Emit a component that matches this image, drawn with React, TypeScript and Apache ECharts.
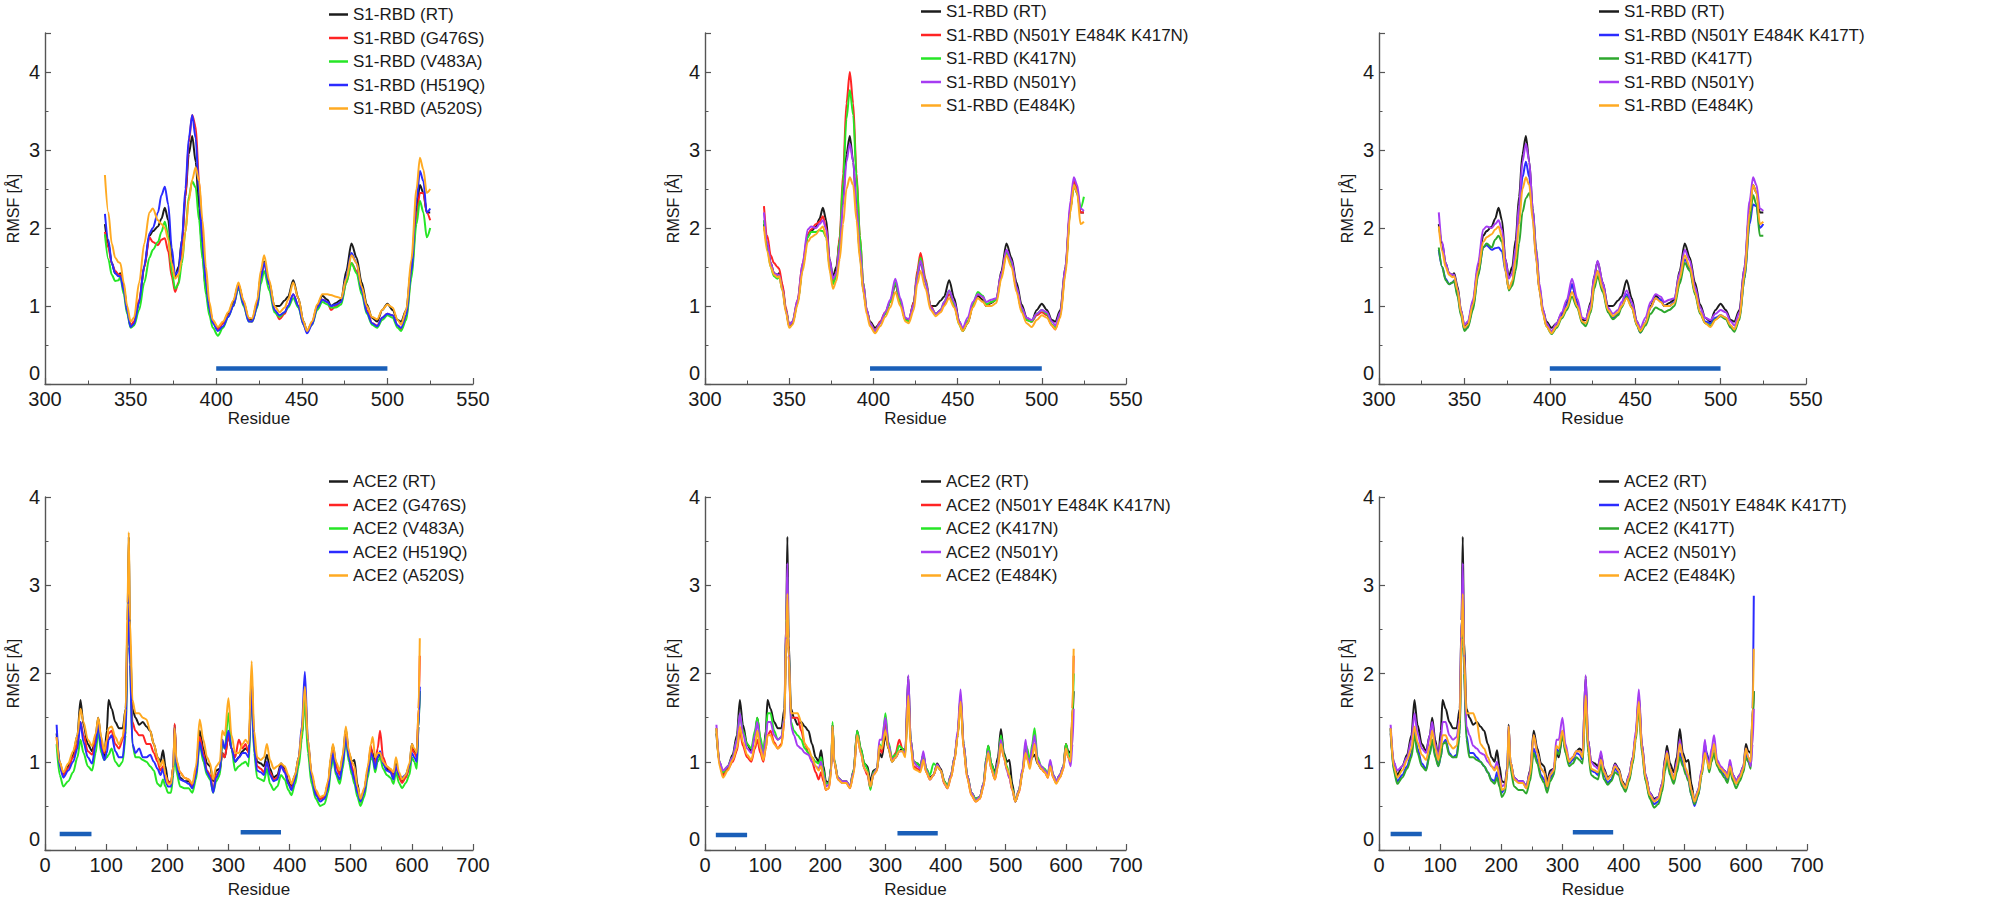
import React, { useEffect, useRef } from "react";
import * as echarts from "echarts";

// ---------- Residue positions ----------
const TOP_X = [
  335, 337, 339, 341, 343, 344, 346, 348, 350, 352,
  355, 358, 361, 363, 366, 368, 370, 372, 374, 376,
  378, 380, 382, 384, 386, 388, 390, 392, 394, 396,
  398, 401, 404, 407, 410, 413, 416, 419, 421, 424,
  426, 428, 431, 434, 437, 440, 442, 445, 448, 451,
  453, 456, 459, 462, 465, 467, 470, 473, 476, 479,
  482, 485, 488, 491, 494, 497, 500, 503, 506, 508,
  511, 514, 517, 519, 521, 523, 525,
];

const BOT_X = [
  19, 24, 30, 38, 46, 53, 58, 63, 70, 77,
  83, 87, 92, 97, 101, 104, 109, 115, 121, 127,
  132, 135, 137, 139, 143, 148, 154, 160, 166, 172,
  178, 184, 189, 193, 197, 201, 206, 210, 212, 215,
  221, 228, 235, 241, 247, 253, 259, 265, 270, 275,
  280, 286, 290, 294, 300, 305, 311, 317, 323, 328,
  333, 338, 342, 347, 353, 358, 363, 368, 374, 380,
  386, 392, 398, 403, 409, 415, 420, 425, 430, 436,
  443, 450, 457, 463, 468, 471, 476, 482, 487, 492,
  497, 502, 506, 511, 516, 522, 528, 533, 536, 540,
  544, 548, 553, 559, 565, 570, 574, 579, 584, 590,
  596, 600, 604, 608, 611, 613,
];

// ---------- S1-RBD RMSF ----------
const S1_RT = [
  2.05, 1.8, 1.55, 1.42, 1.40, 1.42, 1.25, 0.95, 0.74, 0.78,
  1.05, 1.5, 1.9, 1.96, 2.02, 2.12, 2.26, 2.1, 1.6, 1.38,
  1.5, 1.85, 2.4, 2.95, 3.18, 2.85, 2.25, 1.65, 1.2, 0.95,
  0.8, 0.72, 0.78, 0.9, 1.05, 1.28, 1.05, 0.82, 0.82, 1.05,
  1.38, 1.57, 1.3, 1.0, 1.0, 1.07, 1.12, 1.33, 1.1, 0.8,
  0.68, 0.78, 1.0, 1.13, 1.08, 1.0, 1.04, 1.08, 1.45, 1.8,
  1.62, 1.3, 1.02, 0.85, 0.8, 0.95, 1.03, 0.95, 0.82, 0.8,
  0.95, 1.5, 2.25, 2.55, 2.45, 2.2, 2.2,
];
const S1_G476S = [
  1.95, 1.75, 1.55, 1.45, 1.40, 1.40, 1.22, 0.95, 0.75, 0.8,
  1.08, 1.5, 1.88, 1.82, 1.78, 1.85, 1.87, 1.7, 1.38, 1.18,
  1.3, 1.75, 2.4, 3.1, 3.45, 3.3, 2.6, 1.9, 1.35, 1.0,
  0.8, 0.7, 0.78, 0.88, 1.0, 1.27, 1.05, 0.82, 0.8, 1.0,
  1.35, 1.55, 1.28, 0.95, 0.83, 0.9, 1.0, 1.15, 1.0, 0.78,
  0.67, 0.78, 0.98, 1.08, 1.05, 0.95, 1.0, 1.05, 1.3, 1.55,
  1.45, 1.2, 0.95, 0.78, 0.75, 0.85, 0.9, 0.88, 0.75, 0.7,
  0.85, 1.4, 2.15, 2.45, 2.45, 2.2, 2.1,
];
const S1_V483A = [
  1.92, 1.6, 1.4, 1.32, 1.33, 1.37, 1.15, 0.9, 0.72, 0.75,
  0.95, 1.3, 1.62, 1.72, 1.82, 1.95, 2.08, 1.9, 1.45, 1.22,
  1.28, 1.55, 1.95, 2.4, 2.6, 2.52, 2.1, 1.6, 1.15, 0.88,
  0.72, 0.62, 0.72, 0.86, 1.0, 1.23, 1.0, 0.8, 0.8, 0.98,
  1.28, 1.45, 1.2, 0.92, 0.86, 0.92, 0.98, 1.1, 0.98, 0.76,
  0.67, 0.76, 0.95, 1.05, 1.02, 0.98, 0.98, 1.02, 1.3, 1.55,
  1.42, 1.15, 0.9, 0.76, 0.72, 0.82, 0.88, 0.85, 0.72, 0.68,
  0.82, 1.35, 2.05, 2.35, 2.2, 1.88, 2.0,
];
const S1_H519Q = [
  2.18, 1.85, 1.55, 1.42, 1.38, 1.38, 1.2, 0.93, 0.73, 0.77,
  1.05, 1.52, 1.93, 2.0, 2.2, 2.42, 2.53, 2.3, 1.75, 1.4,
  1.45, 1.85, 2.5, 3.15, 3.45, 3.15, 2.45, 1.8, 1.3, 0.96,
  0.78, 0.68, 0.74, 0.86, 1.0, 1.25, 1.02, 0.8, 0.8, 1.0,
  1.35, 1.55, 1.27, 0.95, 0.88, 0.92, 1.0, 1.15, 1.0, 0.76,
  0.65, 0.76, 0.98, 1.08, 1.05, 1.0, 1.02, 1.05, 1.38, 1.68,
  1.55, 1.2, 0.92, 0.78, 0.74, 0.85, 0.9, 0.88, 0.75, 0.72,
  0.88, 1.45, 2.35, 2.73, 2.6, 2.2, 2.25,
];
const S1_A520S = [
  2.68, 2.2, 1.8, 1.62, 1.56, 1.55, 1.3, 1.0, 0.8, 0.85,
  1.3, 1.8, 2.2, 2.25, 2.1, 2.05, 2.0, 1.85, 1.55, 1.35,
  1.4, 1.6, 1.95, 2.35, 2.62, 2.78, 2.6, 2.1, 1.5, 1.05,
  0.82, 0.73, 0.8, 0.92, 1.07, 1.3, 1.07, 0.85, 0.84, 1.08,
  1.45, 1.65, 1.33, 1.0, 0.92, 0.98, 1.08, 1.3, 1.1, 0.8,
  0.68, 0.8, 1.02, 1.15, 1.15, 1.14, 1.12, 1.1, 1.35, 1.65,
  1.55, 1.25, 1.0, 0.86, 0.83, 0.95, 1.02, 0.98, 0.82, 0.76,
  0.95, 1.6, 2.5, 2.9, 2.75, 2.45, 2.5,
];
const S1_NEK_N = [
  2.28, 1.9, 1.65, 1.55, 1.5, 1.48, 1.28, 0.98, 0.76, 0.8,
  1.08, 1.55, 1.92, 1.98, 2.05, 2.08, 2.15, 2.0, 1.55, 1.3,
  1.42, 1.9, 2.7, 3.6, 4.0, 3.6, 2.7, 1.9, 1.3, 0.95,
  0.78, 0.68, 0.8, 0.92, 1.05, 1.3, 1.06, 0.82, 0.8, 1.05,
  1.45, 1.68, 1.35, 1.0, 0.9, 0.95, 1.02, 1.15, 1.0, 0.78,
  0.7, 0.8, 1.0, 1.15, 1.12, 1.0, 1.05, 1.08, 1.4, 1.7,
  1.55, 1.22, 0.95, 0.82, 0.8, 0.88, 0.92, 0.88, 0.75, 0.7,
  0.88, 1.45, 2.3, 2.6, 2.5, 2.2, 2.2,
];
const S1_K417N = [
  2.1, 1.75, 1.5, 1.38, 1.35, 1.38, 1.2, 0.95, 0.76, 0.8,
  1.05, 1.5, 1.88, 1.95, 1.95, 1.97, 1.96, 1.88, 1.5, 1.28,
  1.38, 1.85, 2.6, 3.4, 3.77, 3.45, 2.65, 1.9, 1.3, 0.95,
  0.77, 0.67, 0.78, 0.9, 1.05, 1.3, 1.05, 0.82, 0.8, 1.02,
  1.4, 1.62, 1.32, 0.98, 0.9, 0.95, 1.05, 1.2, 1.02, 0.76,
  0.68, 0.8, 1.02, 1.18, 1.13, 1.02, 1.05, 1.08, 1.38, 1.68,
  1.55, 1.22, 0.95, 0.82, 0.8, 0.9, 0.95, 0.9, 0.76, 0.72,
  0.9, 1.45, 2.25, 2.55, 2.45, 2.25, 2.4,
];
const S1_N501Y = [
  2.2, 1.82, 1.55, 1.42, 1.4, 1.4, 1.22, 0.95, 0.76, 0.8,
  1.08, 1.55, 1.98, 2.02, 2.0, 2.05, 2.1, 1.98, 1.6, 1.35,
  1.42, 1.75, 2.3, 2.85, 3.08, 2.85, 2.25, 1.72, 1.28, 0.96,
  0.78, 0.68, 0.78, 0.92, 1.08, 1.35, 1.1, 0.85, 0.83, 1.02,
  1.38, 1.58, 1.3, 0.98, 0.9, 0.95, 1.05, 1.2, 1.05, 0.8,
  0.72, 0.85, 1.05, 1.15, 1.12, 1.05, 1.08, 1.1, 1.42, 1.72,
  1.58, 1.25, 0.98, 0.85, 0.82, 0.9, 0.95, 0.92, 0.8, 0.75,
  0.92, 1.5, 2.35, 2.65, 2.55, 2.25, 2.22,
];
const S1_E484K = [
  2.02, 1.7, 1.5, 1.4, 1.37, 1.38, 1.2, 0.92, 0.72, 0.76,
  1.02, 1.45, 1.82, 1.88, 1.92, 1.98, 2.02, 1.88, 1.45, 1.22,
  1.32, 1.6, 2.05, 2.5, 2.65, 2.55, 2.1, 1.6, 1.18, 0.9,
  0.74, 0.65, 0.74, 0.86, 0.98, 1.18, 1.0, 0.8, 0.78, 0.95,
  1.28, 1.45, 1.22, 0.95, 0.87, 0.92, 1.0, 1.1, 0.98, 0.76,
  0.68, 0.78, 0.98, 1.1, 1.05, 1.0, 1.0, 1.04, 1.35, 1.65,
  1.5, 1.18, 0.92, 0.78, 0.73, 0.82, 0.88, 0.85, 0.75, 0.7,
  0.85, 1.4, 2.2, 2.55, 2.45, 2.05, 2.08,
];
const S1_NEK_T = [
  1.72, 1.5, 1.35, 1.28, 1.3, 1.33, 1.15, 0.9, 0.7, 0.74,
  0.98, 1.4, 1.75, 1.78, 1.72, 1.74, 1.75, 1.7, 1.45, 1.22,
  1.3, 1.65, 2.15, 2.65, 2.85, 2.65, 2.15, 1.62, 1.2, 0.92,
  0.76, 0.67, 0.76, 0.88, 1.02, 1.28, 1.04, 0.8, 0.78, 0.95,
  1.28, 1.45, 1.22, 0.95, 0.85, 0.9, 1.0, 1.15, 1.0, 0.76,
  0.66, 0.78, 0.98, 1.1, 1.08, 1.0, 1.0, 1.05, 1.32, 1.6,
  1.48, 1.18, 0.92, 0.8, 0.78, 0.85, 0.88, 0.85, 0.74, 0.7,
  0.85, 1.35, 2.05, 2.3, 2.28, 2.0, 2.05,
];
const S1_K417T = [
  1.75, 1.5, 1.33, 1.28, 1.3, 1.32, 1.12, 0.88, 0.68, 0.72,
  0.95, 1.38, 1.75, 1.8, 1.75, 1.85, 1.9, 1.82, 1.48, 1.2,
  1.26, 1.45, 1.8, 2.2, 2.38, 2.45, 2.25, 1.75, 1.25, 0.92,
  0.74, 0.64, 0.72, 0.84, 0.95, 1.12, 0.98, 0.78, 0.74, 0.92,
  1.22, 1.38, 1.18, 0.92, 0.83, 0.88, 0.98, 1.12, 0.98, 0.75,
  0.66, 0.75, 0.9, 0.98, 0.95, 0.92, 0.95, 1.0, 1.28, 1.55,
  1.45, 1.15, 0.9, 0.78, 0.75, 0.83, 0.87, 0.83, 0.72, 0.67,
  0.82, 1.35, 2.1, 2.42, 2.3, 1.9, 1.9,
];

// ---------- ACE2 RMSF ----------
const ACE_RT = [
  1.32, 1.0, 0.85, 0.95, 1.08, 1.3, 1.7, 1.42, 1.2, 1.12,
  1.3, 1.5, 1.25, 1.05, 1.35, 1.7, 1.6, 1.45, 1.38, 1.38,
  1.6, 2.6, 3.55, 2.4, 1.6, 1.5, 1.42, 1.45, 1.4, 1.35,
  1.2, 1.05, 1.0, 1.13, 0.95, 0.78, 0.76, 0.95, 1.42, 1.0,
  0.82, 0.78, 0.78, 0.72, 0.9, 1.35, 1.15, 0.98, 0.95, 0.78,
  0.9, 0.92, 1.1, 1.05, 1.3, 1.15, 1.0, 1.05, 1.12, 1.15,
  1.12, 1.97, 1.25, 1.0, 0.98, 0.95, 1.08, 0.92, 0.82, 0.85,
  0.98, 0.92, 0.78, 0.72, 0.85, 1.05, 1.3, 1.75, 1.2, 0.85,
  0.65, 0.58, 0.6, 0.75, 1.05, 1.18, 0.98, 0.88, 1.05, 1.37,
  1.1, 1.0, 1.02, 0.75, 0.55, 0.68, 0.9, 1.15, 1.1, 0.98,
  1.05, 1.08, 0.98, 0.92, 0.9, 0.85, 0.98, 0.85, 0.78, 0.85,
  0.95, 1.2, 1.12, 1.1, 1.5, 1.8,
];
const ACE_G476S = [
  1.28, 0.95, 0.85, 0.93, 1.05, 1.2, 1.45, 1.3, 1.12, 1.08,
  1.25, 1.45, 1.2, 1.1, 1.2, 1.32, 1.35, 1.2, 1.15, 1.25,
  1.5, 2.4, 3.0, 2.2, 1.45, 1.35, 1.3, 1.3, 1.2, 1.2,
  1.1, 1.0, 0.9, 0.95, 0.85, 0.78, 0.75, 0.95, 1.43, 1.0,
  0.88, 0.82, 0.8, 0.72, 0.88, 1.28, 1.1, 0.9, 0.85, 0.68,
  0.85, 0.9, 1.1, 1.05, 1.3, 1.15, 1.05, 1.25, 1.15, 1.2,
  1.1, 1.9, 1.2, 0.95, 0.92, 0.88, 1.0, 0.88, 0.8, 0.82,
  0.95, 0.9, 0.75, 0.7, 0.82, 1.02, 1.3, 1.85, 1.2, 0.85,
  0.65, 0.58, 0.6, 0.75, 1.0, 1.12, 0.95, 0.85, 1.0, 1.3,
  1.1, 0.95, 0.82, 0.68, 0.55, 0.68, 0.9, 1.18, 1.05, 0.98,
  1.15, 1.35, 1.05, 0.95, 0.9, 0.82, 0.95, 0.82, 0.76, 0.82,
  0.92, 1.15, 1.1, 1.05, 1.6, 2.2,
];
const ACE_V483A = [
  1.2, 0.85, 0.72, 0.78, 0.88, 1.05, 1.25, 1.1, 0.95, 0.9,
  1.1, 1.35, 1.1, 1.02, 1.05, 1.08, 1.15, 1.0, 0.95, 1.0,
  1.3, 2.3, 2.95, 2.1, 1.2, 1.05, 1.05, 1.02, 1.0, 0.95,
  0.9, 0.75, 0.72, 0.8, 0.72, 0.65, 0.65, 0.85, 1.18, 0.88,
  0.72, 0.7, 0.7, 0.65, 0.8, 1.2, 1.0, 0.85, 0.8, 0.65,
  0.78, 0.85, 1.2, 1.15, 1.55, 1.15, 0.9, 0.95, 0.98, 1.0,
  0.95, 1.82, 1.1, 0.82, 0.8, 0.78, 0.92, 0.75, 0.68, 0.72,
  0.85, 0.8, 0.68, 0.62, 0.75, 0.95, 1.25, 1.7, 1.1, 0.75,
  0.58, 0.5, 0.52, 0.65, 0.92, 1.05, 0.85, 0.75, 0.92, 1.25,
  1.0, 0.85, 0.75, 0.6, 0.5, 0.6, 0.82, 1.05, 1.02, 0.88,
  1.0, 1.05, 0.92, 0.85, 0.82, 0.75, 0.88, 0.76, 0.7, 0.76,
  0.85, 1.05, 1.0, 0.92, 1.4, 1.8,
];
const ACE_H519Q = [
  1.42, 0.95, 0.82, 0.9, 1.0, 1.15, 1.45, 1.22, 1.05, 0.98,
  1.2, 1.42, 1.15, 1.02, 1.1, 1.25, 1.3, 1.12, 1.05, 1.05,
  1.35, 2.3, 2.9, 2.1, 1.2, 1.1, 1.15, 1.05, 1.05, 1.08,
  1.0, 0.92, 0.85, 0.92, 0.78, 0.72, 0.72, 0.92, 1.38, 0.95,
  0.8, 0.78, 0.75, 0.7, 0.85, 1.22, 1.05, 0.88, 0.82, 0.65,
  0.82, 0.9, 1.25, 1.15, 1.35, 1.15, 1.0, 1.05, 1.1, 1.1,
  1.05, 1.82, 1.15, 0.9, 0.88, 0.85, 1.0, 0.85, 0.78, 0.8,
  0.95, 0.88, 0.75, 0.68, 0.8, 1.05, 1.4, 2.02, 1.25, 0.82,
  0.62, 0.55, 0.58, 0.7, 0.98, 1.1, 0.88, 0.8, 0.98, 1.28,
  1.05, 0.9, 0.8, 0.65, 0.55, 0.65, 0.88, 1.1, 1.05, 0.92,
  1.05, 1.12, 0.98, 0.9, 0.88, 0.8, 0.95, 0.85, 0.82, 0.85,
  0.95, 1.1, 1.05, 1.0, 1.4, 1.85,
];
const ACE_A520S = [
  1.28, 1.0, 0.88, 0.98, 1.12, 1.3, 1.6, 1.45, 1.25, 1.18,
  1.32, 1.5, 1.28, 1.12, 1.25, 1.38, 1.4, 1.28, 1.2, 1.28,
  1.6, 2.8, 3.6, 2.6, 1.7, 1.55, 1.55, 1.5, 1.48, 1.35,
  1.2, 1.05, 0.95, 1.02, 0.85, 0.75, 0.75, 0.95, 1.38, 1.02,
  0.88, 0.82, 0.8, 0.75, 0.95, 1.48, 1.25, 1.05, 0.98, 0.8,
  0.95, 1.0, 1.35, 1.3, 1.72, 1.3, 1.1, 1.1, 1.2, 1.25,
  1.2, 2.14, 1.35, 1.05, 1.02, 1.05, 1.2, 1.02, 0.92, 0.95,
  0.98, 0.95, 0.85, 0.75, 0.85, 1.05, 1.35, 1.85, 1.25, 0.88,
  0.68, 0.6, 0.62, 0.78, 1.08, 1.2, 1.0, 0.9, 1.08, 1.4,
  1.12, 1.0, 0.95, 0.72, 0.58, 0.7, 0.95, 1.2, 1.28, 1.05,
  1.1, 1.1, 1.0, 0.95, 0.92, 0.88, 1.05, 0.88, 0.8, 0.85,
  0.98, 1.2, 1.15, 1.1, 1.6, 2.4,
];
const ACE_NEK_N = [
  1.38, 0.98, 0.85, 0.92, 1.0, 1.12, 1.35, 1.18, 1.05, 1.0,
  1.15, 1.25, 1.1, 1.0, 1.15, 1.3, 1.35, 1.22, 1.15, 1.2,
  1.45, 2.4, 2.95, 2.2, 1.5, 1.5, 1.5, 1.35, 1.2, 1.1,
  1.0, 0.88, 0.8, 0.88, 0.78, 0.68, 0.7, 0.92, 1.42, 1.0,
  0.8, 0.76, 0.76, 0.7, 0.88, 1.32, 1.12, 0.92, 0.85, 0.7,
  0.85, 0.9, 1.15, 1.1, 1.45, 1.2, 1.02, 1.1, 1.25, 1.15,
  1.1, 1.78, 1.2, 0.95, 0.92, 0.9, 1.02, 0.88, 0.8, 0.85,
  0.95, 0.9, 0.75, 0.7, 0.82, 1.02, 1.3, 1.7, 1.15, 0.82,
  0.62, 0.55, 0.58, 0.72, 1.0, 1.12, 0.92, 0.8, 0.95, 1.2,
  1.05, 0.92, 0.82, 0.68, 0.55, 0.65, 0.88, 1.12, 1.05, 0.95,
  1.1, 1.2, 1.0, 0.92, 0.88, 0.82, 0.95, 0.82, 0.76, 0.82,
  0.92, 1.2, 1.05, 1.0, 1.6, 2.2,
];
const ACE_K417N = [
  1.38, 1.0, 0.88, 0.95, 1.05, 1.25, 1.55, 1.35, 1.2, 1.15,
  1.35, 1.5, 1.28, 1.1, 1.3, 1.55, 1.55, 1.35, 1.25, 1.28,
  1.5, 2.5, 3.1, 2.3, 1.45, 1.35, 1.3, 1.25, 1.15, 1.1,
  1.05, 1.0, 0.98, 1.05, 0.9, 0.75, 0.76, 0.95, 1.45, 1.02,
  0.82, 0.78, 0.78, 0.72, 0.9, 1.35, 1.15, 0.98, 0.92, 0.68,
  0.88, 0.92, 1.2, 1.15, 1.55, 1.22, 1.05, 1.08, 1.18, 1.15,
  1.08, 1.8, 1.25, 1.0, 0.98, 0.95, 1.08, 0.92, 0.85, 0.98,
  0.95, 0.9, 0.78, 0.72, 0.85, 1.05, 1.3, 1.7, 1.2, 0.85,
  0.65, 0.58, 0.6, 0.75, 1.05, 1.18, 0.98, 0.85, 1.0, 1.3,
  1.08, 0.95, 0.85, 0.7, 0.55, 0.68, 0.9, 1.2, 1.15, 1.0,
  1.2, 1.38, 1.05, 0.95, 0.92, 0.85, 1.0, 0.85, 0.78, 0.85,
  0.95, 1.2, 1.1, 1.0, 1.5, 2.0,
];
const ACE_N501Y = [
  1.42, 1.0, 0.9, 0.95, 1.05, 1.25, 1.55, 1.32, 1.15, 1.1,
  1.3, 1.45, 1.2, 1.05, 1.25, 1.45, 1.45, 1.3, 1.25, 1.28,
  1.5, 2.6, 3.25, 2.3, 1.4, 1.3, 1.18, 1.15, 1.1, 1.08,
  1.0, 0.95, 0.92, 1.0, 0.85, 0.72, 0.74, 0.92, 1.4, 1.0,
  0.82, 0.78, 0.78, 0.72, 0.88, 1.3, 1.1, 0.92, 0.88, 0.72,
  0.86, 0.92, 1.25, 1.25, 1.5, 1.2, 1.02, 1.05, 1.12, 1.12,
  1.1, 1.98, 1.25, 1.0, 0.95, 0.92, 1.12, 0.9, 0.8, 0.85,
  0.97, 0.9, 0.76, 0.7, 0.85, 1.05, 1.35, 1.82, 1.2, 0.85,
  0.65, 0.56, 0.6, 0.75, 1.02, 1.12, 0.92, 0.82, 1.0, 1.25,
  1.05, 0.9, 0.82, 0.68, 0.55, 0.68, 0.92, 1.25, 1.05, 0.98,
  1.15, 1.3, 1.02, 0.95, 0.9, 0.85, 1.02, 0.85, 0.78, 0.85,
  0.95, 1.15, 1.05, 0.95, 1.2, 1.6,
];
const ACE_E484K = [
  1.38, 0.95, 0.82, 0.9, 1.02, 1.15, 1.4, 1.22, 1.08, 1.02,
  1.18, 1.35, 1.15, 1.02, 1.15, 1.3, 1.3, 1.2, 1.15, 1.18,
  1.45, 2.4, 2.9, 2.2, 1.55, 1.55, 1.55, 1.45, 1.2, 1.15,
  1.05, 0.95, 0.9, 0.95, 0.82, 0.68, 0.7, 0.9, 1.4, 1.0,
  0.8, 0.76, 0.76, 0.7, 0.85, 1.3, 1.1, 0.92, 0.88, 0.72,
  0.85, 0.9, 1.18, 1.15, 1.35, 1.15, 1.0, 1.05, 1.12, 1.12,
  1.05, 1.75, 1.18, 0.92, 0.9, 0.88, 1.02, 0.88, 0.8, 0.85,
  0.95, 0.9, 0.76, 0.7, 0.82, 1.02, 1.28, 1.68, 1.15, 0.82,
  0.62, 0.55, 0.58, 0.72, 0.98, 1.1, 0.92, 0.8, 0.95, 1.2,
  1.05, 0.92, 0.85, 0.68, 0.55, 0.66, 0.88, 1.1, 1.02, 0.92,
  1.05, 1.2, 0.98, 0.92, 0.88, 0.82, 0.95, 0.82, 0.75, 0.82,
  0.92, 1.15, 1.05, 1.0, 1.6, 2.28,
];
const ACE_NEK_T = [
  1.38, 0.92, 0.78, 0.85, 0.95, 1.1, 1.35, 1.15, 0.98, 0.92,
  1.1, 1.25, 1.08, 0.95, 1.05, 1.2, 1.25, 1.1, 1.05, 1.08,
  1.35, 2.4, 3.0, 2.1, 1.3, 1.1, 1.1, 1.05, 1.0, 0.95,
  0.88, 0.8, 0.78, 0.88, 0.75, 0.65, 0.7, 0.9, 1.35, 0.95,
  0.8, 0.78, 0.78, 0.7, 0.85, 1.15, 1.02, 0.85, 0.8, 0.7,
  0.82, 0.88, 1.15, 1.1, 1.35, 1.12, 0.98, 1.02, 1.1, 1.08,
  1.02, 1.75, 1.15, 0.9, 0.88, 0.85, 1.0, 0.85, 0.76, 0.8,
  0.92, 0.88, 0.74, 0.68, 0.8, 1.0, 1.3, 1.7, 1.15, 0.8,
  0.6, 0.52, 0.55, 0.7, 0.95, 1.05, 0.88, 0.78, 0.9, 1.1,
  0.98, 0.88, 0.8, 0.62, 0.5, 0.62, 0.88, 1.2, 1.1, 0.92,
  1.05, 1.2, 0.98, 0.9, 0.85, 0.8, 0.95, 0.8, 0.75, 0.82,
  0.9, 1.1, 1.0, 0.95, 1.6, 2.88,
];
const ACE_K417T = [
  1.38, 0.9, 0.75, 0.82, 0.92, 1.05, 1.3, 1.1, 0.95, 0.9,
  1.08, 1.25, 1.05, 0.95, 1.05, 1.2, 1.22, 1.08, 1.05, 1.05,
  1.3, 2.3, 2.95, 2.0, 1.25, 1.05, 1.05, 1.02, 1.0, 0.95,
  0.88, 0.78, 0.75, 0.82, 0.72, 0.6, 0.65, 0.88, 1.3, 0.92,
  0.72, 0.68, 0.68, 0.64, 0.78, 1.1, 0.98, 0.82, 0.76, 0.65,
  0.78, 0.85, 1.12, 1.08, 1.3, 1.1, 0.95, 0.98, 1.05, 1.02,
  0.98, 1.7, 1.1, 0.85, 0.82, 0.8, 0.95, 0.8, 0.74, 0.78,
  0.88, 0.85, 0.72, 0.66, 0.78, 0.98, 1.25, 1.6, 1.1, 0.78,
  0.58, 0.48, 0.52, 0.66, 0.9, 1.02, 0.85, 0.75, 0.88, 1.05,
  0.95, 0.85, 0.78, 0.62, 0.52, 0.62, 0.85, 1.1, 1.05, 0.88,
  1.0, 1.1, 0.95, 0.88, 0.82, 0.76, 0.9, 0.78, 0.7, 0.78,
  0.88, 1.05, 1.0, 0.92, 1.4, 1.8,
];

// ---------- Interface region markers: [start, end, level] ----------
const TL_BARS = [[400, 500, 0.2]];
const TM_BARS = [[398, 500, 0.2]];
const TR_BARS = [[400, 500, 0.2]];
const BL_BARS = [[24, 76, 0.18], [320, 386, 0.2]];
const BM_BARS = [[18, 70, 0.17], [320, 387, 0.19]];
const BR_BARS = [[19, 70, 0.18], [317, 383, 0.2]];

// ---------- Styles ----------
const C = {
  rt: "#1c1c1c",
  red: "#ff2424",
  lime: "#26e626",
  blue: "#2b2bff",
  orange: "#ffaa22",
  purple: "#a63cf2",
  green: "#2ea82e",
};
const BAR_COLOR = "#1a5fb8";
const FONT = "Liberation Sans, Arial, Helvetica, sans-serif";

type Curve = { name: string; values: number[]; color: string };
type Panel = {
  grid: { left: number; top: number; width: number; height: number };
  xs: number[];
  xMin: number;
  xMax: number;
  xInt: number;
  yMax: number;
  curves: Curve[];
  bars: number[][];
  legend: { left: number; top: number; itemWidth: number };
  xNameGap: number;
};

const TOP_GRID_H = 351;
const BOT_GRID_H = 353;

const PANELS: Panel[] = [
  {
    grid: { left: 45, top: 33, width: 428, height: TOP_GRID_H },
    xs: TOP_X, xMin: 300, xMax: 550, xInt: 50, yMax: 4.5,
    curves: [
      { name: "S1-RBD (RT)", values: S1_RT, color: C.rt },
      { name: "S1-RBD (G476S)", values: S1_G476S, color: C.red },
      { name: "S1-RBD (V483A)", values: S1_V483A, color: C.lime },
      { name: "S1-RBD (H519Q)", values: S1_H519Q, color: C.blue },
      { name: "S1-RBD (A520S)", values: S1_A520S, color: C.orange },
    ],
    bars: TL_BARS,
    legend: { left: 329, top: 6, itemWidth: 19 },
    xNameGap: 25,
  },
  {
    grid: { left: 705, top: 33, width: 421, height: TOP_GRID_H },
    xs: TOP_X, xMin: 300, xMax: 550, xInt: 50, yMax: 4.5,
    curves: [
      { name: "S1-RBD (RT)", values: S1_RT, color: C.rt },
      { name: "S1-RBD (N501Y E484K K417N)", values: S1_NEK_N, color: C.red },
      { name: "S1-RBD (K417N)", values: S1_K417N, color: C.lime },
      { name: "S1-RBD (N501Y)", values: S1_N501Y, color: C.purple },
      { name: "S1-RBD (E484K)", values: S1_E484K, color: C.orange },
    ],
    bars: TM_BARS,
    legend: { left: 921, top: 3, itemWidth: 20 },
    xNameGap: 25,
  },
  {
    grid: { left: 1379, top: 33, width: 427, height: TOP_GRID_H },
    xs: TOP_X, xMin: 300, xMax: 550, xInt: 50, yMax: 4.5,
    curves: [
      { name: "S1-RBD (RT)", values: S1_RT, color: C.rt },
      { name: "S1-RBD (N501Y E484K K417T)", values: S1_NEK_T, color: C.blue },
      { name: "S1-RBD (K417T)", values: S1_K417T, color: C.green },
      { name: "S1-RBD (N501Y)", values: S1_N501Y, color: C.purple },
      { name: "S1-RBD (E484K)", values: S1_E484K, color: C.orange },
    ],
    bars: TR_BARS,
    legend: { left: 1599, top: 3, itemWidth: 20 },
    xNameGap: 25,
  },
  {
    grid: { left: 45, top: 497, width: 428, height: BOT_GRID_H },
    xs: BOT_X, xMin: 0, xMax: 700, xInt: 100, yMax: 4,
    curves: [
      { name: "ACE2 (RT)", values: ACE_RT, color: C.rt },
      { name: "ACE2 (G476S)", values: ACE_G476S, color: C.red },
      { name: "ACE2 (V483A)", values: ACE_V483A, color: C.lime },
      { name: "ACE2 (H519Q)", values: ACE_H519Q, color: C.blue },
      { name: "ACE2 (A520S)", values: ACE_A520S, color: C.orange },
    ],
    bars: BL_BARS,
    legend: { left: 329, top: 473, itemWidth: 19 },
    xNameGap: 31,
  },
  {
    grid: { left: 705, top: 497, width: 421, height: BOT_GRID_H },
    xs: BOT_X, xMin: 0, xMax: 700, xInt: 100, yMax: 4,
    curves: [
      { name: "ACE2 (RT)", values: ACE_RT, color: C.rt },
      { name: "ACE2 (N501Y E484K K417N)", values: ACE_NEK_N, color: C.red },
      { name: "ACE2 (K417N)", values: ACE_K417N, color: C.lime },
      { name: "ACE2 (N501Y)", values: ACE_N501Y, color: C.purple },
      { name: "ACE2 (E484K)", values: ACE_E484K, color: C.orange },
    ],
    bars: BM_BARS,
    legend: { left: 921, top: 473, itemWidth: 20 },
    xNameGap: 31,
  },
  {
    grid: { left: 1379, top: 497, width: 428, height: BOT_GRID_H },
    xs: BOT_X, xMin: 0, xMax: 700, xInt: 100, yMax: 4,
    curves: [
      { name: "ACE2 (RT)", values: ACE_RT, color: C.rt },
      { name: "ACE2 (N501Y E484K K417T)", values: ACE_NEK_T, color: C.blue },
      { name: "ACE2 (K417T)", values: ACE_K417T, color: C.green },
      { name: "ACE2 (N501Y)", values: ACE_N501Y, color: C.purple },
      { name: "ACE2 (E484K)", values: ACE_E484K, color: C.orange },
    ],
    bars: BR_BARS,
    legend: { left: 1599, top: 473, itemWidth: 20 },
    xNameGap: 31,
  },
];

function buildOption() {
  const axisLine = { show: true, lineStyle: { color: "#555", width: 1.4 } };
  const axisTick = { show: true, inside: true, length: 6, lineStyle: { color: "#555", width: 1.2 } };
  const minorTick = { show: true, splitNumber: 2, length: 3.5, lineStyle: { color: "#555", width: 1 } };
  const labelStyle = { color: "#1a1a1a", fontSize: 20, fontFamily: FONT };

  const grid: any[] = [];
  const xAxis: any[] = [];
  const yAxis: any[] = [];
  const series: any[] = [];
  const legend: any[] = [];

  PANELS.forEach((p, i) => {
    grid.push({ ...p.grid, containLabel: false });
    xAxis.push({
      type: "value",
      gridIndex: i,
      min: p.xMin,
      max: p.xMax,
      interval: p.xInt,
      axisLine,
      axisTick,
      minorTick,
      splitLine: { show: false },
      minorSplitLine: { show: false },
      axisLabel: { ...labelStyle, margin: 5 },
      name: "Residue",
      nameLocation: "middle",
      nameGap: p.xNameGap,
      nameTextStyle: { color: "#1a1a1a", fontSize: 17, fontFamily: FONT },
    });
    yAxis.push({
      type: "value",
      gridIndex: i,
      min: 0,
      max: p.yMax,
      interval: 1,
      axisLine,
      axisTick,
      minorTick,
      splitLine: { show: false },
      minorSplitLine: { show: false },
      axisLabel: {
        ...labelStyle,
        margin: 5,
        formatter: (v: number) =>
          v === 0 ? "{z|0}" : Number.isInteger(v) ? String(v) : "",
        rich: {
          z: { ...labelStyle, padding: [0, 0, 22, 0] },
        },
      },
      name: "RMSF [Å]",
      nameLocation: "middle",
      nameGap: 24,
      nameRotate: 90,
      nameTextStyle: { color: "#1a1a1a", fontSize: 16, fontFamily: FONT },
    });
    p.curves.forEach((c) => {
      series.push({
        type: "line",
        name: c.name,
        xAxisIndex: i,
        yAxisIndex: i,
        data: p.xs.map((x, k) => [x, c.values[k]]),
        symbol: "none",
        smooth: 0.3,
        smoothMonotone: "x",
        lineStyle: { color: c.color, width: 2 },
        itemStyle: { color: c.color },
        z: 3,
      });
    });
    p.bars.forEach((b) => {
      series.push({
        type: "line",
        name: "marker",
        xAxisIndex: i,
        yAxisIndex: i,
        data: [[b[0], b[2]], [b[1], b[2]]],
        symbol: "none",
        lineStyle: { color: BAR_COLOR, width: 4.5, cap: "butt" },
        itemStyle: { color: BAR_COLOR },
        z: 2,
      });
    });
    legend.push({
      data: p.curves.map((c) => c.name),
      orient: "vertical",
      left: p.legend.left,
      top: p.legend.top,
      icon: "rect",
      itemWidth: p.legend.itemWidth,
      itemHeight: 2.5,
      itemGap: 6.5,
      selectedMode: false,
      padding: 0,
      textStyle: { color: "#1a1a1a", fontSize: 17, fontFamily: FONT },
    });
  });

  return {
    animation: false,
    backgroundColor: "#ffffff",
    textStyle: { fontFamily: FONT },
    grid,
    xAxis,
    yAxis,
    legend,
    series,
  };
}

export default function App() {
  const ref = useRef<HTMLDivElement>(null);
  useEffect(() => {
    if (!ref.current) return;
    const chart = echarts.init(ref.current, undefined, { renderer: "svg" });
    chart.setOption(buildOption() as any);
    return () => chart.dispose();
  }, []);
  return (
    <div
      ref={ref}
      style={{ position: "fixed", left: 0, top: 0, width: 2008, height: 900, background: "#fff" }}
    />
  );
}
